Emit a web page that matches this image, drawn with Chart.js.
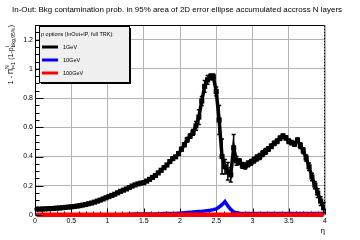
<!DOCTYPE html>
<html>
<head>
<meta charset="utf-8">
<script src="https://cdn.jsdelivr.net/npm/chart.js@4.4.0/dist/chart.umd.min.js"></script>
<style>
  html, body { margin: 0; padding: 0; background: #fff; }
  #wrap { width: 360px; height: 240px; }
</style>
</head>
<body>
<div id="wrap"><canvas id="c" width="360" height="240"></canvas></div>
<script>
// eta bin centres
const eta = [
  0.02,0.06,0.10,0.14,0.18,0.22,0.26,0.30,0.34,0.38,
  0.42,0.46,0.50,0.54,0.58,0.62,0.66,0.70,0.74,0.78,
  0.82,0.86,0.90,0.94,0.98,1.02,1.06,1.10,1.14,1.18,
  1.22,1.26,1.30,1.34,1.38,1.42,1.46,1.50,1.54,1.58,
  1.62,1.66,1.70,1.74,1.78,1.82,1.86,1.90,1.94,1.98,
  2.02,2.06,2.10,2.14,2.18,2.22,2.26,2.30,2.34,2.38,
  2.42,2.46,2.50,2.54,2.58,2.62,2.66,2.70,2.74,2.78,
  2.82,2.86,2.90,2.94,2.98,3.02,3.06,3.10,3.14,3.18,
  3.22,3.26,3.30,3.34,3.38,3.42,3.46,3.50,3.54,3.58,
  3.62,3.66,3.70,3.74,3.78,3.82,3.86,3.90,3.94,3.98
];

const prob1GeV = [
  0.040,0.040,0.041,0.042,0.043,0.044,0.045,0.047,0.048,0.050,
  0.052,0.054,0.056,0.058,0.061,0.064,0.068,0.072,0.077,0.082,
  0.088,0.095,0.102,0.110,0.118,0.126,0.134,0.142,0.152,0.162,
  0.170,0.178,0.188,0.198,0.206,0.213,0.218,0.222,0.232,0.244,
  0.257,0.270,0.288,0.306,0.324,0.342,0.366,0.386,0.398,0.420,
  0.450,0.480,0.515,0.540,0.565,0.610,0.670,0.780,0.880,0.925,
  0.945,0.945,0.845,0.650,0.400,0.330,0.300,0.275,0.460,0.370,
  0.365,0.340,0.335,0.350,0.360,0.375,0.390,0.400,0.420,0.435,
  0.452,0.470,0.490,0.505,0.525,0.540,0.528,0.505,0.495,0.485,
  0.512,0.475,0.440,0.390,0.330,0.260,0.205,0.150,0.095,0.050
];

const err1GeV = [
  0.004,0.004,0.004,0.004,0.004,0.004,0.004,0.004,0.004,0.004,
  0.004,0.004,0.004,0.004,0.004,0.004,0.004,0.004,0.004,0.004,
  0.005,0.005,0.005,0.005,0.005,0.005,0.005,0.005,0.005,0.005,
  0.006,0.006,0.006,0.006,0.006,0.006,0.006,0.006,0.006,0.006,
  0.008,0.008,0.008,0.008,0.008,0.008,0.008,0.008,0.008,0.008,
  0.012,0.012,0.015,0.015,0.020,0.030,0.050,0.030,0.040,0.030,
  0.020,0.020,0.030,0.100,0.120,0.050,0.060,0.050,0.090,0.030,
  0.020,0.020,0.020,0.020,0.020,0.020,0.020,0.020,0.020,0.020,
  0.015,0.015,0.015,0.015,0.015,0.015,0.015,0.015,0.015,0.015,
  0.015,0.020,0.020,0.020,0.025,0.025,0.025,0.030,0.030,0.035
];

const prob10GeV = [
  0.002,0.002,0.002,0.002,0.002,0.002,0.002,0.002,0.002,0.002,
  0.002,0.002,0.002,0.002,0.002,0.002,0.002,0.002,0.002,0.002,
  0.002,0.002,0.002,0.002,0.002,0.002,0.002,0.002,0.002,0.002,
  0.002,0.003,0.005,0.005,0.006,0.006,0.006,0.006,0.006,0.006,
  0.006,0.007,0.007,0.009,0.010,0.010,0.010,0.011,0.011,0.012,
  0.013,0.015,0.017,0.018,0.020,0.022,0.024,0.025,0.027,0.030,
  0.033,0.037,0.042,0.055,0.070,0.092,0.062,0.038,0.022,0.015,
  0.012,0.011,0.010,0.010,0.011,0.010,0.010,0.011,0.010,0.010,
  0.010,0.011,0.010,0.010,0.011,0.010,0.010,0.010,0.011,0.010,
  0.010,0.010,0.011,0.010,0.010,0.010,0.011,0.010,0.010,0.010
];

const prob100GeV = [
  0.001,0.001,0.001,0.001,0.001,0.001,0.001,0.001,0.001,0.001,
  0.001,0.001,0.001,0.001,0.001,0.001,0.001,0.001,0.001,0.001,
  0.001,0.001,0.001,0.001,0.001,0.001,0.001,0.001,0.001,0.001,
  0.001,0.001,0.001,0.001,0.001,0.001,0.001,0.001,0.001,0.001,
  0.001,0.001,0.001,0.001,0.001,0.001,0.001,0.001,0.001,0.001,
  0.001,0.001,0.001,0.001,0.001,0.001,0.001,0.001,0.001,0.001,
  0.001,0.001,0.001,0.001,0.001,0.001,0.001,0.001,0.001,0.001,
  0.001,0.001,0.001,0.001,0.001,0.001,0.001,0.001,0.001,0.001,
  0.001,0.001,0.001,0.001,0.001,0.001,0.001,0.001,0.001,0.001,
  0.001,0.001,0.001,0.001,0.001,0.001,0.001,0.001,0.001,0.001
];

const xTicks = [0, 0.5, 1, 1.5, 2, 2.5, 3, 3.5, 4];
const yTicks = [0, 0.2, 0.4, 0.6, 0.8, 1, 1.2];
const seriesNames = ['1GeV', '10GeV', '100GeV'];
const seriesColors = ['#000000', '#0000ff', '#ff0000'];
const legendHeader = 'p options (InOut+IP, full TRK):';
const titleText = 'In-Out: Bkg contamination prob. in 95% area of 2D error ellipse accumulated accross N layers';

const FONT = "'Liberation Sans', Arial, Helvetica, sans-serif";

function pts(vals) {
  return eta.map((x, i) => ({ x: x, y: vals[i] }));
}

// error bars for the 1GeV series, drawn right after that dataset
const errorBars = {
  id: 'errorBars',
  afterDatasetDraw(chart, args) {
    if (args.index !== 0) return;
    const xs = chart.scales.x, ys = chart.scales.y, ctx = chart.ctx;
    ctx.save();
    ctx.strokeStyle = '#000';
    ctx.lineWidth = 1.5;
    eta.forEach((e, i) => {
      const px = xs.getPixelForValue(e);
      const top = ys.getPixelForValue(prob1GeV[i] + err1GeV[i]);
      const bot = ys.getPixelForValue(prob1GeV[i] - err1GeV[i]);
      ctx.beginPath();
      ctx.moveTo(px, top); ctx.lineTo(px, bot);
      ctx.moveTo(px - 2, top); ctx.lineTo(px + 2, top);
      ctx.moveTo(px - 2, bot); ctx.lineTo(px + 2, bot);
      ctx.stroke();
    });
    ctx.restore();
  }
};

// ROOT-like title, frame, ticks, axis titles and legend
const decorations = {
  id: 'decorations',
  afterDraw(chart) {
    const ctx = chart.ctx, a = chart.chartArea;
    const ys = chart.scales.y;
    ctx.save();

    // title, squeezed to the width it has in the reference
    ctx.fillStyle = '#000';
    ctx.font = '8px ' + FONT;
    ctx.textAlign = 'center';
    ctx.textBaseline = 'middle';
    const tw = ctx.measureText(titleText).width;
    ctx.translate(177, 10);
    ctx.scale(Math.min(1, 330 / tw), 1);
    ctx.fillText(titleText, 0, 0);
    ctx.setTransform(1, 0, 0, 1, 0, 0);

    ctx.strokeStyle = '#000';
    ctx.lineWidth = 1;

    // frame
    const L = Math.round(a.left) + 0.5, R = Math.round(a.right) - 0.5;
    const T = Math.round(a.top) + 0.5, B = Math.round(a.bottom) - 0.5;
    ctx.beginPath();
    ctx.moveTo(R, T); ctx.lineTo(L, T); ctx.lineTo(L, B);
    ctx.stroke();
    ctx.setLineDash([2, 1]);
    ctx.beginPath();
    ctx.moveTo(R, T); ctx.lineTo(R, B);
    ctx.stroke();
    ctx.setLineDash([]);

    // y ticks (inside)
    ctx.beginPath();
    for (let v = 0; v <= 1.3001; v += 0.05) {
      const py = Math.round(ys.getPixelForValue(v)) + 0.5;
      const major = Math.abs(v / 0.2 - Math.round(v / 0.2)) < 1e-6;
      ctx.moveTo(L, py); ctx.lineTo(L + (major ? 8 : 4), py);
    }
    ctx.stroke();

    // x axis title
    ctx.font = '8px ' + FONT;
    ctx.textAlign = 'right';
    ctx.textBaseline = 'alphabetic';
    ctx.fillText('\u03B7', a.right, 233);

    // y axis title: 1 - prod_{i=1}^{N} (1-p^{i}_{bkg,95%})
    const parts = [
      { t: '1 - \u03A0' },
      { sup: 'N', sub: 'i=1' },
      { t: ' (1-p' },
      { sup: 'i', sub: 'bkg,95%' },
      { t: ')' }
    ];
    const mainF = '7px ' + FONT, smallF = '5px ' + FONT;
    let w = 0;
    parts.forEach(p => {
      if (p.t) { ctx.font = mainF; p.w = ctx.measureText(p.t).width; }
      else {
        ctx.font = smallF;
        p.w = Math.max(ctx.measureText(p.sup).width, ctx.measureText(p.sub).width) + 0.5;
      }
      w += p.w;
    });
    ctx.translate(12.5, a.top);
    ctx.rotate(-Math.PI / 2);
    ctx.textAlign = 'left';
    let x = -w;
    parts.forEach(p => {
      if (p.t) {
        ctx.font = mainF;
        ctx.fillText(p.t, x, 0);
      } else {
        ctx.font = smallF;
        ctx.fillText(p.sup, x, -4);
        ctx.fillText(p.sub, x, 2);
      }
      x += p.w;
    });
    ctx.setTransform(1, 0, 0, 1, 0, 0);

    // legend box with shadow
    const bx = 39, by = 26, bw = 90, bh = 56;
    ctx.fillStyle = '#000';
    ctx.fillRect(bx + 2, by + 2, bw, bh);
    ctx.fillStyle = '#f0f0f0';
    ctx.fillRect(bx, by, bw, bh);
    ctx.strokeStyle = '#000';
    ctx.lineWidth = 1;
    ctx.strokeRect(bx + 0.5, by + 0.5, bw, bh);

    ctx.fillStyle = '#000';
    ctx.font = '5.5px ' + FONT;
    ctx.textBaseline = 'middle';
    ctx.textAlign = 'left';
    ctx.fillText(legendHeader, 41, 34);
    seriesNames.forEach((name, i) => {
      const ly = 47 + i * 13;
      ctx.strokeStyle = seriesColors[i];
      ctx.lineWidth = 3;
      ctx.beginPath();
      ctx.moveTo(42, ly); ctx.lineTo(58, ly);
      ctx.stroke();
      ctx.fillStyle = '#000';
      ctx.fillText(name, 63, ly);
    });
    ctx.restore();
  },
  // bottom axis line and x ticks go under the datasets, as in the reference
  beforeDatasetsDraw(chart) {
    const ctx = chart.ctx, a = chart.chartArea, xs = chart.scales.x;
    const L = Math.round(a.left) + 0.5, R = Math.round(a.right) - 0.5;
    const B = Math.round(a.bottom) - 0.5;
    ctx.save();
    ctx.strokeStyle = '#000';
    ctx.lineWidth = 1;
    ctx.beginPath();
    ctx.moveTo(L, B); ctx.lineTo(R, B);
    for (let v = 0; v <= 4.0001; v += 0.1) {
      const px = Math.round(xs.getPixelForValue(v)) + 0.5;
      const major = Math.abs(v / 0.5 - Math.round(v / 0.5)) < 1e-6;
      ctx.moveTo(px, B); ctx.lineTo(px, B - (major ? 6 : 3));
    }
    ctx.stroke();
    ctx.restore();
  }
};

new Chart(document.getElementById('c'), {
  type: 'line',
  data: {
    datasets: [
      {
        label: seriesNames[0],
        data: pts(prob1GeV),
        borderColor: seriesColors[0],
        backgroundColor: seriesColors[0],
        borderWidth: 3.5,
        pointStyle: 'rect',
        pointRadius: 3.6,
        pointBorderWidth: 0,
        order: 3
      },
      {
        label: seriesNames[1],
        data: pts(prob10GeV),
        borderColor: seriesColors[1],
        borderWidth: 3.5,
        pointRadius: 0,
        order: 2
      },
      {
        label: seriesNames[2],
        data: pts(prob100GeV),
        borderColor: seriesColors[2],
        borderWidth: 4.5,
        pointRadius: 0,
        clip: { left: 0, right: 1, top: 0, bottom: 4 },
        order: 1
      }
    ]
  },
  options: {
    responsive: false,
    animation: false,
    devicePixelRatio: 1,
    layout: { padding: { left: 0, right: 35, top: 25, bottom: 0 } },
    plugins: {
      legend: { display: false },
      tooltip: { enabled: false },
      title: { display: false }
    },
    scales: {
      x: {
        type: 'linear',
        min: 0,
        max: 4,
        afterFit(scale) { scale.height = 25; },
        afterBuildTicks(scale) { scale.ticks = xTicks.map(v => ({ value: v })); },
        grid: { color: '#b4b4b4', borderDash: [1, 2], drawTicks: false },
        border: { display: false },
        ticks: {
          color: '#000',
          font: { family: FONT, size: 7 },
          padding: 2,
          maxRotation: 0,
          autoSkip: false,
          callback: v => String(v)
        }
      },
      y: {
        type: 'linear',
        min: 0,
        max: 1.3,
        afterFit(scale) { scale.width = 35; },
        afterBuildTicks(scale) { scale.ticks = yTicks.map(v => ({ value: v })); },
        grid: { color: '#b4b4b4', borderDash: [1, 2], drawTicks: false },
        border: { display: false },
        ticks: {
          color: '#000',
          font: { family: FONT, size: 7 },
          padding: 2,
          autoSkip: false,
          callback: v => String(v)
        }
      }
    }
  },
  plugins: [errorBars, decorations]
});
</script>
</body>
</html>
